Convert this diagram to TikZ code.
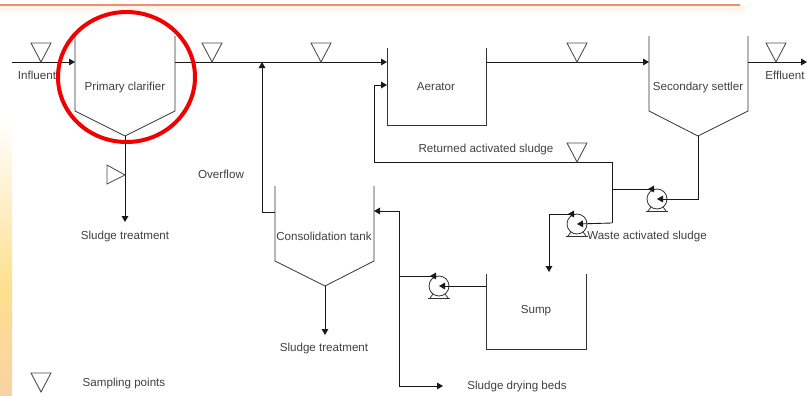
\documentclass[tikz,border=0pt]{standalone}
\usepackage{fontspec}
\setmainfont{Liberation Sans}
\usetikzlibrary{arrows.meta}
\definecolor{txt}{HTML}{404040}
\definecolor{stripY}{HTML}{FDDF8E}
\definecolor{stripP}{HTML}{F8D2A6}
\definecolor{topline}{HTML}{EE9070}
\definecolor{topfade}{HTML}{FFF3E8}
\tikzset{
  pipe/.style={draw=black!90,line width=0.65pt},
  flow/.style={pipe,-{Triangle[length=4.5pt,width=5pt]}},
  tank/.style={draw=black!80,line width=0.6pt},
  samp/.style={draw=black!70,line width=0.65pt,fill=white},
  lab/.style={font=\fontsize{8.7pt}{10pt}\selectfont,text=txt,inner sep=0pt},
}
\begin{document}
\begin{tikzpicture}[x=0.75pt,y=-0.75pt]
\useasboundingbox (0,0) rectangle (807,396);
% decorative edges
\shade[top color=white,bottom color=stripY] (0,120) rectangle (12,290);
\shade[top color=stripY,bottom color=stripP] (0,290) rectangle (12,396);
\shade[top color=topfade,bottom color=white] (0,6) rectangle (745,16);
\draw[draw=topline,line width=1.5pt] (0,5) -- (740,5);
% tanks
\coordinate (pcTL) at (75,36); \coordinate (pcTR) at (175,36);
\coordinate (pcB) at (125,136);
\draw[tank] (pcTL) -- (75,111) -- (pcB) -- (175,111) -- (pcTR);
\coordinate (ssTL) at (649,36); \coordinate (ssTR) at (748,36);
\coordinate (ssB) at (698,136);
\draw[tank] (ssTL) -- (649,111) -- (ssB) -- (748,111) -- (ssTR);
\coordinate (ctTL) at (275,186); \coordinate (ctTR) at (374,186);
\coordinate (ctB) at (325,286);
\draw[tank] (ctTL) -- (275,261) -- (ctB) -- (374,261) -- (ctTR);
\draw[tank] (387,48) -- (387,125) -- (486,125) -- (486,48);
\draw[tank] (486,274) -- (486,349) -- (586,349) -- (586,274);
% pumps
\foreach \n/\x/\y in {pa/657/199,pb/577/224,pc/439/286}{
  \coordinate (\n) at (\x,\y);
  \draw[tank] (\n) circle[radius=10];
  \draw[tank] (\x-6,\y+8) -- (\x-9,\y+12);
  \draw[tank] (\x+6,\y+8) -- (\x+9,\y+12);
  \draw[tank] (\x-11,\y+12) -- (\x+11,\y+12);
  \draw[flow] (\x-3,\y-10) -- (\x-9,\y-10);
}
% flows
\draw[flow] (12,62) -- (75,62);
\draw[flow] (175,62) -- (387,62);
\draw[flow] (486,62) -- (649,62);
\draw[flow] (748,62) -- (807,62);
\draw[flow] (ctTL |- 0,212) -- (262,212) -- (262,62);
\draw[flow] (pcB) -- (125,222);
\draw[flow] (ctB) -- (325,335);
\draw[flow] (698,136) -- (698,199) -- (pa);
\draw[pipe] (612,189) -- (650,189);
\draw[pipe] (612,162) -- (612,223);
\draw[flow] (612,162) -- (374,162) -- (374,85) -- (387,85);
\draw[flow] (612,223) -- (pb);
\draw[flow] (570,214) -- (549,214) -- (549,272);
\draw[flow] (486,286) -- (pc);
\draw[pipe] (399,276) -- (432,276);
\draw[flow] (399,211) -- (374,211);
\draw[flow] (399,211) -- (399,386) -- (443,386);
% sampling points
\foreach \n/\x/\y in {sa/41/62,sb/212/62,sc/321/62,sd/577/62,se/776/62,sf/577/162,sg/41/392}{
  \draw[samp] (\x,\y) -- (\x-10,\y-19) -- (\x+10,\y-19) -- cycle;
}
\draw[samp] (125,175) -- (107,165) -- (107,184) -- cycle;
% labels
\node[lab] (l1) at (37,75) {Influent};
\node[lab] (l2) at (125,87) {Primary clarifier};
\node[lab] (l3) at (221,174) {Overflow};
\node[lab] (l4) at (125,236) {Sludge treatment};
\node[lab] (l5) at (436,87) {Aerator};
\node[lab] (l6) at (698,87) {Secondary settler};
\node[lab] (l7) at (785,75) {Effluent};
\node[lab] (l8) at (486,149) {Returned activated sludge};
\node[lab] (l9) at (647,236) {Waste activated sludge};
\node[lab] (l10) at (324,236) {Consolidation tank};
\node[lab] (l11) at (324,348) {Sludge treatment};
\node[lab] (l12) at (536,311) {Sump};
\node[lab] (l13) at (517,386) {Sludge drying beds};
\node[lab] (l14) at (124,383) {Sampling points};
% highlight
\draw[draw=red!95!black,line width=3pt] (126.5,77) ellipse[x radius=68.5,y radius=65];
\end{tikzpicture}
\end{document}
